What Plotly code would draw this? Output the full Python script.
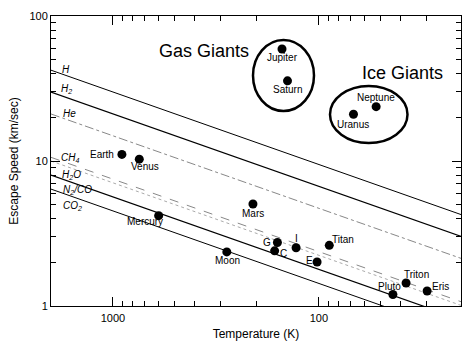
import numpy as np
import plotly.graph_objects as go

# ---- data ----
bodies = ["Earth", "Venus", "Mercury", "Mars", "Moon", "G", "C", "I", "E", "Titan",
          "Triton", "Pluto", "Eris", "Jupiter", "Saturn", "Neptune", "Uranus"]
temps = [905, 745, 600, 209, 280, 159, 164, 129, 102, 89,
         37.7, 43.7, 29.8, 151, 142, 52.7, 67.9]
speeds = [11.1, 10.3, 4.2, 5.05, 2.36, 2.74, 2.40, 2.52, 2.01, 2.62,
          1.44, 1.20, 1.27, 59.2, 35.7, 23.7, 21.0]

gases = ["H", "H2", "He", "CH4", "H2O", "N2/CO", "CO2"]
gas_labels = ["H", "H<sub>2</sub>", "He", "CH<sub>4</sub>", "H<sub>2</sub>O",
              "N<sub>2</sub>/CO", "CO<sub>2</sub>"]
line_temps = [2000, 20]
speed_hot = [42.3, 29.9, 21.1, 10.6, 10.0, 8.0, 6.4]
speed_cold = [4.23, 2.99, 2.11, 1.06, 1.00, 0.80, 0.64]

x_ticks = [1000, 100]
x_minor = [2000, 900, 800, 700, 600, 500, 400, 300, 200, 90, 80, 70, 60, 50, 40, 30, 20]
y_ticks = [1, 10, 100]
y_minor = [2, 3, 4, 5, 6, 7, 8, 9, 20, 30, 40, 50, 60, 70, 80, 90]

# ---- styles / layout helpers ----
FONT = "Liberation Sans, Arial, Helvetica, sans-serif"
W, H = 462, 342
ML, MR, MT, MB = 51, 1, 16, 36
PW, PH = W - ML - MR, H - MT - MB

def px(x, y):
    return (x - ML) / PW, (H - MB - y) / PH

gas_styles = [
    dict(color="black", width=1, dash="solid"),
    dict(color="black", width=1.2, dash="solid"),
    dict(color="#888888", width=1, dash="dashdot"),
    dict(color="#888888", width=1, dash="dash"),
    dict(color="#aaaaaa", width=1, dash="dot"),
    dict(color="black", width=1.2, dash="solid"),
    dict(color="black", width=1, dash="solid"),
]
gas_label_px = [(66, 69), (66, 89), (69, 113), (70, 158), (71, 175), (77, 190), (72, 206)]

body_offsets = {
    "Earth": (-20, 0), "Venus": (6, 7), "Mercury": (-14, 6), "Mars": (0, 9),
    "Moon": (1, 9), "G": (-10, 0), "C": (9, 3), "I": (0, -9), "E": (-8, -2),
    "Titan": (14, -6), "Triton": (10, -9), "Pluto": (-3, -8), "Eris": (13, -4),
    "Jupiter": (0, 8), "Saturn": (0, 9), "Neptune": (0, -9), "Uranus": (0, 10),
}

fig = go.Figure()

for g, hot, cold, st in zip(gases, speed_hot, speed_cold, gas_styles):
    fig.add_trace(go.Scatter(x=line_temps, y=[hot, cold], mode="lines",
                             line=st, name=g, showlegend=False, hoverinfo="skip"))

fig.add_trace(go.Scatter(x=temps, y=speeds, mode="markers",
                         marker=dict(color="black", size=9),
                         text=bodies, showlegend=False, cliponaxis=False))

annotations = []
for b, t, v in zip(bodies, temps, speeds):
    dx, dy = body_offsets[b]
    annotations.append(dict(x=np.log10(t), y=np.log10(v), xref="x", yref="y",
                            text=b, showarrow=False, xshift=dx, yshift=-dy,
                            font=dict(family=FONT, size=10, color="black")))

for lab, (lx, ly) in zip(gas_labels, gas_label_px):
    xp, yp = px(lx, ly)
    annotations.append(dict(x=xp, y=yp, xref="paper", yref="paper", text="<i>" + lab + "</i>",
                            showarrow=False, xanchor="center", yanchor="middle",
                            font=dict(family=FONT, size=10, color="black")))

for txt, (cx, cy) in [("Gas Giants", (204, 51)), ("Ice Giants", (402, 73))]:
    xp, yp = px(cx, cy)
    annotations.append(dict(x=xp, y=yp, xref="paper", yref="paper", text=txt,
                            showarrow=False, xanchor="center", yanchor="middle",
                            font=dict(family=FONT, size=18, color="black")))

shapes = []
for (x0, y0, x1, y1) in [(253, 40, 314, 111), (330, 86, 407.5, 143)]:
    a0, b1 = px(x0, y0)
    a1, b0 = px(x1, y1)
    shapes.append(dict(type="circle", xref="paper", yref="paper",
                       x0=a0, x1=a1, y0=b0, y1=b1,
                       line=dict(color="black", width=2.5)))

axis_common = dict(showgrid=False, zeroline=False, showline=True, linecolor="black",
                   linewidth=1, mirror="ticks", ticks="inside", tickcolor="black",
                   tickfont=dict(family=FONT, size=11, color="black"))

fig.update_layout(
    width=W, height=H,
    margin=dict(l=ML, r=MR, t=MT, b=MB),
    paper_bgcolor="white", plot_bgcolor="white",
    font=dict(family=FONT, color="black"),
    xaxis=dict(type="log", range=[np.log10(2000), np.log10(20.4)],
               tickvals=x_ticks, ticktext=[str(v) for v in x_ticks], ticklen=9,
               ticklabelstandoff=2,
               minor=dict(tickvals=x_minor, ticklen=5, ticks="inside", tickcolor="black"),
               title=dict(text="Temperature (K)", font=dict(family=FONT, size=12, color="black"),
                          standoff=6),
               **axis_common),
    yaxis=dict(type="log", range=[0, 2],
               tickvals=y_ticks, ticktext=[str(v) for v in y_ticks], ticklen=9,
               minor=dict(tickvals=y_minor, ticklen=5, ticks="inside", tickcolor="black"),
               title=dict(text="Escape Speed (km/sec)", font=dict(family=FONT, size=12, color="black"),
                          standoff=8),
               **axis_common),
    annotations=annotations,
    shapes=shapes,
)

fig.write_html("out.html", config={"displayModeBar": False},
               post_script="document.body.style.margin='0';document.body.style.padding='0';")
